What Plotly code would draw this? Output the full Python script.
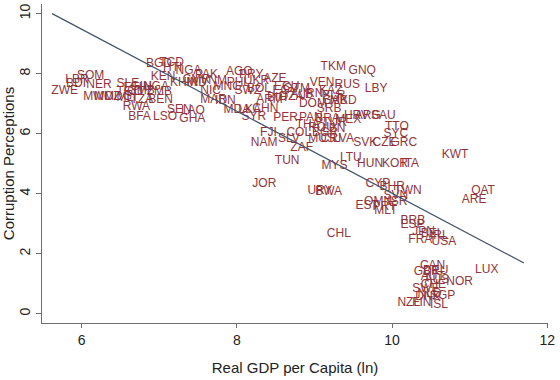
import plotly.graph_objects as go

# Country labels, log real GDP per capita (x), corruption perception score (y)
countries = ["ZWE","LBR","BDI","SOM","NER","MWI","MOZ","MDG","SLE","ETH","GIN","UGA","TGO","GMB","ZMB",
             "MLI","TZA","BEN","RWA","BFA","LSO","SEN","LAO","GHA","BGD","TCD","HTI","NGA","KEN","KHM",
             "CMR","PAK","IND","VNM","NIC","MNG","PHL","SWZ","BOL","AGO","PRY","UKR","AZE","ECU","GTM",
             "ARM","BIH","DZA","EGY","MAR","IDN","MDA","LKA","CHN","SYR","PER","PAN","BRA","MEX","TUR",
             "THA","ROU","BGR","LBN","COL","FJI","SLV","MUS","CRI","LVA","NAM","ZAF","SVK","CZE","GRC",
             "TTO","SYC","SAU","HRV","ARG","KWT","TUN","LTU","MYS","HUN","KOR","ITA","JOR","URY","BWA",
             "CYP","BHR","TWN","SVN","ISR","OMN","EST","MLT","PRT","BRB","ESP","JPN","BEL","IRL","FRA",
             "USA","CHL","QAT","ARE","LUX","CAN","GBR","DEU","AUT","AUS","NOR","CHE","SWE","NLD","DNK",
             "SGP","NZL","FIN","ISL","TKM","GNQ","VEN","RUS","LBY","KAZ","IRN","ALB","GAB","DOM","SRB",
             "BLR","MKD"]
gdp_ln = [5.61,5.79,5.80,5.94,6.06,6.02,6.16,6.29,6.45,6.54,6.63,6.79,6.45,6.59,6.84,
          6.45,6.63,6.86,6.53,6.60,6.92,7.10,7.28,7.26,6.83,7.00,7.05,7.21,6.89,7.14,
          7.30,7.46,7.35,7.53,7.53,7.70,7.87,7.97,8.13,7.86,8.03,8.09,8.34,8.48,8.60,
          8.25,8.39,8.55,8.46,7.53,7.72,7.83,8.02,8.20,8.06,8.47,8.80,9.01,9.27,9.10,
          8.76,8.92,8.97,9.10,8.64,8.30,8.53,8.92,9.08,9.24,8.18,8.69,9.50,9.75,9.98,
          9.91,9.89,9.73,9.38,9.52,10.64,8.49,9.33,9.09,9.55,9.87,10.12,8.20,8.91,9.01,
          9.66,9.84,10.03,9.89,9.94,9.64,9.53,9.77,9.75,10.11,10.11,10.26,10.37,10.49,10.21,
          10.51,9.16,11.02,10.90,11.07,10.36,10.28,10.40,10.37,10.42,10.70,10.37,10.26,10.33,10.30,
          10.49,10.07,10.26,10.49,9.08,9.44,8.94,9.26,9.65,9.06,8.85,8.69,9.10,8.80,9.03,
          9.10,9.20]
corruption = [7.41,7.79,7.66,7.91,7.63,7.22,7.22,7.22,7.66,7.52,7.57,7.54,7.38,7.43,7.38,
              7.19,7.11,7.11,6.90,6.57,6.57,6.80,6.74,6.49,8.32,8.34,8.18,8.09,7.90,7.70,
              7.79,7.94,7.68,7.74,7.43,7.54,7.68,7.41,7.49,8.04,7.96,7.74,7.83,7.57,7.49,
              7.12,7.19,7.21,7.41,7.11,7.08,6.80,6.80,6.83,6.55,6.52,6.52,6.50,6.47,6.36,
              6.28,6.19,6.03,6.14,6.02,6.03,5.83,5.81,5.81,5.81,5.70,5.53,5.70,5.70,5.70,
              6.21,5.99,6.60,6.60,6.60,5.29,5.09,5.20,4.92,5.00,5.00,5.00,4.32,4.09,4.07,
              4.32,4.23,4.09,3.93,3.71,3.71,3.58,3.43,3.54,3.10,2.97,2.72,2.64,2.60,2.47,
              2.38,2.66,4.09,3.79,1.47,1.59,1.39,1.42,1.23,1.11,1.06,0.95,0.81,0.67,0.56,
              0.58,0.36,0.36,0.29,8.21,8.09,7.68,7.63,7.49,7.41,7.32,7.30,7.10,6.99,6.83,
              7.24,7.08]

# Linear fit line end points
fit_x = [5.62, 11.70]
fit_y = [10.0, 1.69]

x_ticks = [6, 8, 10, 12]
y_ticks = [0, 2, 4, 6, 8, 10]

FONT = "Liberation Sans, Arial, sans-serif"
LABEL_COLOR = "rgb(144,53,59)"
AXIS_COLOR = "#6e6e6e"

fig = go.Figure()
fig.add_trace(go.Scatter(
    x=gdp_ln, y=corruption, mode="text", text=countries,
    textposition="middle right",
    textfont=dict(family=FONT, size=12, color=LABEL_COLOR),
    hoverinfo="text", showlegend=False,
))
fig.add_trace(go.Scatter(
    x=fit_x, y=fit_y, mode="lines",
    line=dict(color="#46546a", width=1.3),
    showlegend=False, hoverinfo="skip",
))

fig.update_layout(
    width=560, height=380,
    margin=dict(l=42, r=12, t=4, b=57),
    paper_bgcolor="white", plot_bgcolor="white",
    font=dict(family=FONT, color="#222"),
    xaxis=dict(
        range=[5.49, 12.01], tickvals=x_ticks, ticktext=[str(v) for v in x_ticks],
        showgrid=False, zeroline=False, showline=True, linecolor=AXIS_COLOR, linewidth=1,
        ticks="outside", ticklen=4, tickcolor=AXIS_COLOR, automargin=False,
        tickfont=dict(size=14, family=FONT, color="#222"),
        title=dict(text="Real GDP per Capita (ln)", font=dict(size=15, family=FONT, color="#222"), standoff=15),
    ),
    yaxis=dict(
        range=[-0.31, 10.32], tickvals=y_ticks, ticktext=[str(v) for v in y_ticks],
        showgrid=False, zeroline=False, showline=True, linecolor=AXIS_COLOR, linewidth=1,
        ticks="outside", ticklen=5, tickcolor=AXIS_COLOR, tickangle=-90, automargin=False,
        tickfont=dict(size=14, family=FONT, color="#222"),
        title=dict(text="Corruption Perceptions", font=dict(size=15, family=FONT, color="#222"), standoff=4),
    ),
)

fig.write_html("out.html", config={"displayModeBar": False},
               post_script="document.body.style.margin='0';")
